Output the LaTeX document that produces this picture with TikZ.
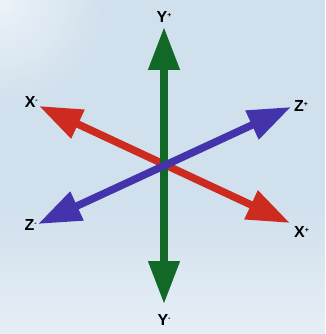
\documentclass[tikz,border=0pt]{standalone}
\usepackage{fontspec}
\setmainfont{Liberation Sans}
\usetikzlibrary{positioning, arrows.meta}
\definecolor{bgblue}{RGB}{208,224,237}
\definecolor{bglight}{RGB}{240,245,250}
\definecolor{axisgreen}{RGB}{18,104,38}
\definecolor{axisred}{RGB}{205,42,32}
\definecolor{axisblue}{RGB}{68,52,172}
\newcommand{\axsign}[1]{\raisebox{5pt}{\fontsize{7}{7}\selectfont #1}}

\begin{document}
\begin{tikzpicture}[
        x=1pt, y=-1pt,
        axis/.style={line width=7.5pt,
                     {Triangle[length=43pt, width=30pt]}-{Triangle[length=43pt, width=30pt]}},
        axislabel/.style={font=\fontsize{16}{16}\selectfont\bfseries, inner sep=0pt,
                          text=black},
    ]
    % ---- background ----
    \useasboundingbox (0,0) rectangle (325,334);
    \clip (0,0) rectangle (325,334);
    \fill[bgblue] (0,0) rectangle (325,334);
    \shade[inner color=bglight, outer color=bgblue, opacity=0.9]
        (0,0) circle (110);
    \shade[top color=bgblue, bottom color=bglight, opacity=0.7]
        (0,200) rectangle (325,334);

    % ---- axis end points ----
    \coordinate (Yp) at (164,27);
    \coordinate (Ym) at (164,304);
    \coordinate (Xm) at (39,106);
    \coordinate (Xp) at (290,223);
    \coordinate (Zp) at (291,107);
    \coordinate (Zm) at (38,224);

    % ---- arrows (red under green under blue) ----
    \draw[axis, axisred] (Xm) -- (Xp);
    \draw[axis, axisgreen] (Ym) -- (Yp);
    \draw[axis, axisblue] (Zm) -- (Zp);

    % ---- labels ----
    \node[axislabel, above=4pt of Yp] (YpL) {Y\axsign{+}};
    \node[axislabel, below=10pt of Ym] (YmL) {Y\axsign{-}};
    \node[axislabel, anchor=east] (XmL) at (38,102) {X\axsign{-}};
    \node[axislabel, anchor=west] (ZpL) at (294,106) {Z\axsign{+}};
    \node[axislabel, anchor=east] (ZmL) at (37,225) {Z\axsign{-}};
    \node[axislabel, anchor=west] (XpL) at (294,232) {X\axsign{+}};
\end{tikzpicture}
\end{document}
